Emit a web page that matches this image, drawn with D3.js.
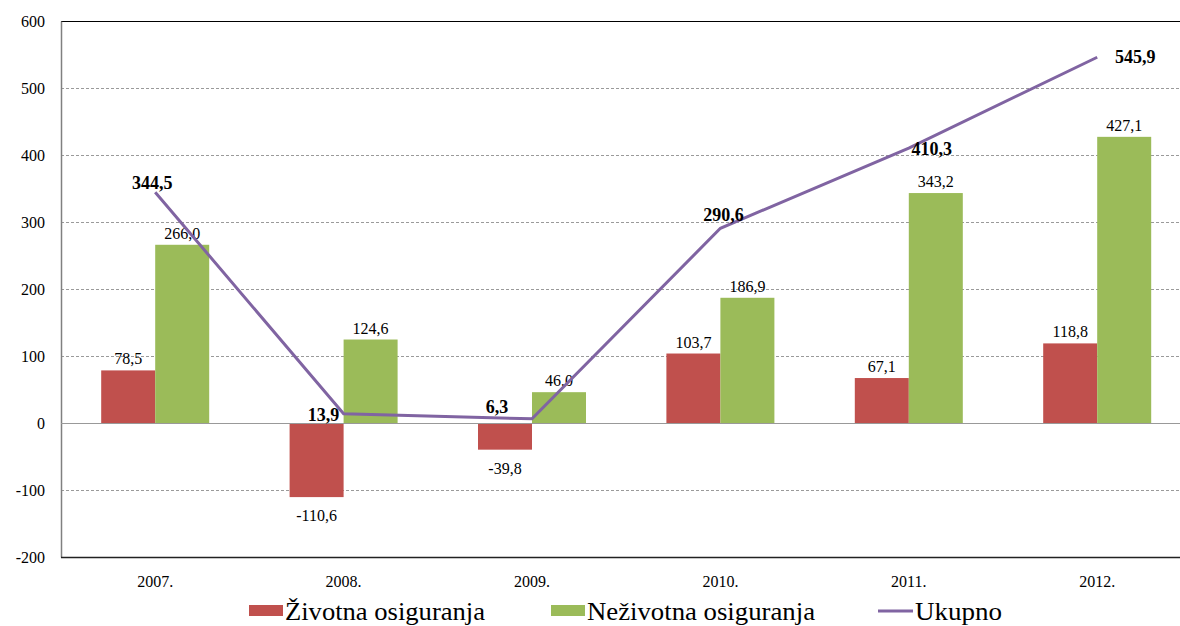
<!DOCTYPE html>
<html><head><meta charset="utf-8">
<script src="https://cdn.jsdelivr.net/npm/d3@7"></script>
<style>body{margin:0;background:#fff}svg{display:block}</style>
</head><body>
<script>
const categories = ["2007.","2008.","2009.","2010.","2011.","2012."];
const zivotna = [78.5,-110.6,-39.8,103.7,67.1,118.8];
const nezivotna = [266.0,124.6,46.0,186.9,343.2,427.1];
const ukupno = [344.5,13.9,6.3,290.6,410.3,545.9];
const yTicks = [-200,-100,0,100,200,300,400,500,600];
const seriesNames = ["Životna osiguranja","Neživotna osiguranja","Ukupno"];
// label offsets for total-line labels (dx, dy) - positioning only
const totalLabelOffsets = [[-3,-3],[-20,7],[-35,-6],[3,-7],[23,7],[38,6]];

(function(){
const W=1180,H=626;
const FONT='"Liberation Serif"';
const fmt = v => v.toFixed(1).replace(".",",");
const svg = d3.select("body").append("svg").attr("width",W).attr("height",H).attr("font-family",FONT);
const pLeft=61, pTop=21, pBottom=557, pRight=61+6*188.4;
const x = d3.scaleBand().domain(categories).range([pLeft,pRight]).paddingInner(0).paddingOuter(0);
const y = d3.scaleLinear().domain([-200,600]).range([pBottom,pTop]);
const bw = 54;

svg.append("g").selectAll("line").data(yTicks.filter(t=>t!==-200&&t!==600&&t!==0)).join("line")
  .attr("x1",pLeft).attr("x2",W).attr("y1",d=>y(d)+0.5).attr("y2",d=>y(d)+0.5)
  .attr("stroke","#9a9a9a").attr("stroke-width",1).attr("stroke-dasharray","3,2");
svg.append("line").attr("x1",pLeft).attr("x2",W).attr("y1",y(600)+0.5).attr("y2",y(600)+0.5).attr("stroke","#000").attr("stroke-width",1.2);

const yAxis = d3.axisLeft(y).tickValues(yTicks).tickSize(0).tickPadding(16).tickFormat(d=>d);
const ga = svg.append("g").attr("transform",`translate(${pLeft},0)`).call(yAxis);
ga.attr("font-family",FONT).attr("font-size",16);
ga.select(".domain").attr("stroke","#808080").attr("stroke-width",1.5);
ga.selectAll("text").attr("fill","#000");

const g = svg.append("g");
g.selectAll("rect.z").data(zivotna).join("rect").attr("class","z")
  .attr("x",(d,i)=>x(categories[i])+x.bandwidth()/2-bw).attr("width",bw)
  .attr("y",d=>y(Math.max(0,d))).attr("height",d=>Math.abs(y(d)-y(0)))
  .attr("fill","#C0504D");
g.selectAll("rect.n").data(nezivotna).join("rect").attr("class","n")
  .attr("x",(d,i)=>x(categories[i])+x.bandwidth()/2).attr("width",bw)
  .attr("y",d=>y(Math.max(0,d))).attr("height",d=>Math.abs(y(d)-y(0)))
  .attr("fill","#9BBB59");

svg.append("line").attr("x1",pLeft).attr("x2",W).attr("y1",y(0)+0.5).attr("y2",y(0)+0.5).attr("stroke","#999").attr("stroke-width",1.2);
svg.append("line").attr("x1",pLeft).attr("x2",W).attr("y1",y(-200)+0.5).attr("y2",y(-200)+0.5).attr("stroke","#222").attr("stroke-width",1.5);

const xAxis = d3.axisBottom(x).tickSize(0).tickPadding(19);
const gx = svg.append("g").attr("transform",`translate(0,${pBottom})`).call(xAxis);
gx.attr("font-family",FONT).attr("font-size",16);
gx.select(".domain").remove();
gx.selectAll("text").attr("fill","#000");

const lab = svg.append("g").attr("font-size",16).attr("fill","#000").attr("text-anchor","middle");
lab.selectAll("text.z").data(zivotna).join("text").attr("class","z")
  .attr("x",(d,i)=>x(categories[i])+x.bandwidth()/2-bw/2)
  .attr("y",d=>d>=0? y(d)-6 : y(d)+24).text(fmt);
lab.selectAll("text.n").data(nezivotna).join("text").attr("class","n")
  .attr("x",(d,i)=>x(categories[i])+x.bandwidth()/2+bw/2)
  .attr("y",d=>y(d)-6).text(fmt);

const line = d3.line().x((d,i)=>x(categories[i])+x.bandwidth()/2).y(d=>y(d));
svg.append("path").datum(ukupno).attr("d",line).attr("fill","none").attr("stroke","#8064A2").attr("stroke-width",3);
svg.append("g").attr("font-size",18).attr("font-weight","bold").attr("text-anchor","middle")
  .selectAll("text").data(ukupno).join("text")
  .attr("x",(d,i)=>x(categories[i])+x.bandwidth()/2+totalLabelOffsets[i][0])
  .attr("y",(d,i)=>y(d)+totalLabelOffsets[i][1]).text(fmt);

const leg = svg.append("g").attr("font-size",25);
const lx = [249,551,878];
const tl = [200,228,87];
leg.append("rect").attr("x",lx[0]).attr("y",605).attr("width",34).attr("height",11).attr("fill","#C0504D");
leg.append("rect").attr("x",lx[1]).attr("y",605).attr("width",34).attr("height",11).attr("fill","#9BBB59");
leg.append("line").attr("x1",lx[2]).attr("x2",lx[2]+35).attr("y1",611).attr("y2",611).attr("stroke","#8064A2").attr("stroke-width",3);
[0,1,2].forEach(i=>{
  const off = i===2?37:36;
  leg.append("text").attr("x",lx[i]+off).attr("y",620).attr("textLength",tl[i]).attr("lengthAdjust","spacingAndGlyphs").text(seriesNames[i]);
});
})();
</script>
</body></html>
